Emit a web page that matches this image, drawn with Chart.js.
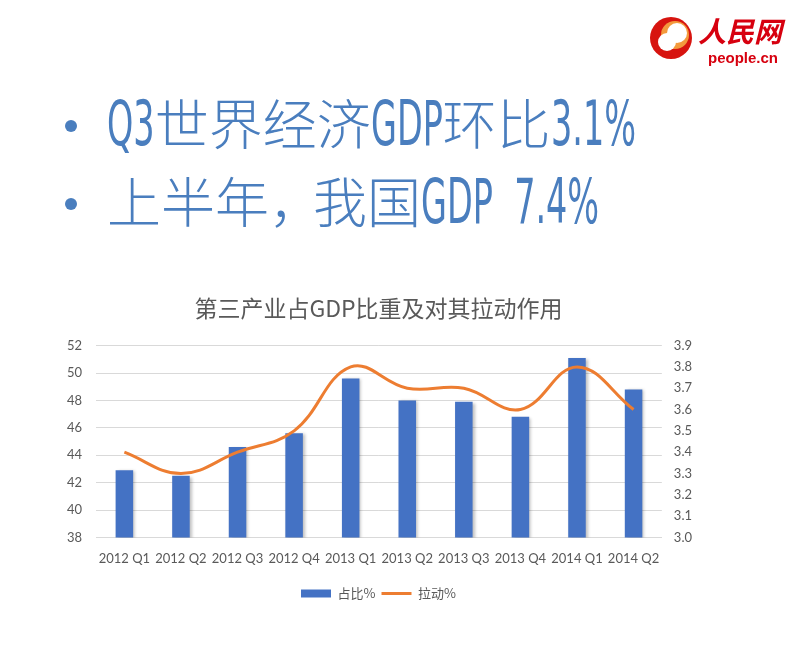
<!DOCTYPE html>
<html>
<head>
<meta charset="utf-8">
<script src="https://cdn.jsdelivr.net/npm/chart.js@4.4.1/dist/chart.umd.min.js"></script>
<style>
  html, body { margin: 0; padding: 0; background: #ffffff; }
  #wrap { position: relative; width: 800px; height: 666px; overflow: hidden; background: #fff; }
  #chart { position: absolute; left: 0; top: 0; }
  .head { position: absolute; left: 60px; font-family: "Noto Sans CJK SC", sans-serif; font-size: 54px; color: #4A7EBE; line-height: 60px; white-space: nowrap; font-weight: 300; }
  .head .dot { display: inline-block; width: 12px; height: 12px; border-radius: 50%; background: #4A7EBE; vertical-align: middle; margin: 0 30px 0 5px; position: relative; top: -4px; }
  .lat { display: inline-block; font-family: "Liberation Sans Narrow", "DejaVu Sans Condensed", "Liberation Sans", sans-serif; font-size: 62px; transform-origin: left center; vertical-align: baseline; }
  #logo { position: absolute; left: 640px; top: 2px; }
</style>
</head>
<body>
<div id="wrap">
  <canvas id="chart" width="800" height="666"></canvas>
  <div class="head" id="h1" style="top:92px;"><span class="dot"></span><span class="lat" data-sx="0.6">Q3</span>世界经济<span class="lat" data-sx="0.6">GDP</span>环比<span class="lat" data-sx="0.6">3.1%</span></div>
  <div class="head" id="h2" style="top:170px;"><span class="dot"></span>上半年，<span style="margin-left:-10px">我国</span><span class="lat" data-sx="0.6">GDP&nbsp;&nbsp;7.4%</span></div>
  <svg id="logo" width="160" height="72" viewBox="0 0 160 72">
    <circle cx="31" cy="36" r="21" fill="#D7140F"/>
    <circle cx="35" cy="33" r="14" fill="#F39A3D"/>
    <circle cx="37" cy="31" r="10" fill="#ffffff"/>
    <circle cx="27" cy="40" r="9" fill="#ffffff"/>
    <text x="58" y="40" font-family="Noto Sans CJK SC" font-weight="700" font-size="28" fill="#D7000F" font-style="italic">人民网</text>
    <text x="68" y="61" font-family="Liberation Sans, Arial" font-weight="700" font-size="15" fill="#D7000F">people.cn</text>
  </svg>
</div>
<script>
// ---- data ----
const categories = ["2012 Q1","2012 Q2","2012 Q3","2012 Q4","2013 Q1","2013 Q2","2013 Q3","2013 Q4","2014 Q1","2014 Q2"];
const shareValues = [42.9, 42.5, 44.6, 45.6, 49.6, 48.0, 47.9, 46.8, 51.1, 48.8];
const pullValues = [3.4, 3.3, 3.4, 3.5, 3.8, 3.7, 3.7, 3.6, 3.8, 3.6];
const seriesNames = ["占比%", "拉动%"];
const chartTitle = "第三产业占GDP比重及对其拉动作用";

// condense latin spans in the headlines
document.querySelectorAll('.lat').forEach(function (el) {
  const sx = parseFloat(el.getAttribute('data-sx'));
  const w = el.getBoundingClientRect().width;
  el.style.transform = 'scaleX(' + sx + ')';
  el.style.marginRight = (-(1 - sx) * w) + 'px';
});

const barShadow = {
  id: 'barShadow',
  beforeDatasetDraw(chart, args) {
    if (args.index === 1) {
      const ctx = chart.ctx;
      ctx.save();
      ctx.shadowColor = 'rgba(0,0,0,0.25)';
      ctx.shadowBlur = 3;
      ctx.shadowOffsetX = 2;
      ctx.shadowOffsetY = 1;
    }
  },
  afterDatasetDraw(chart, args) {
    if (args.index === 1) chart.ctx.restore();
  }
};

const tickFont = { family: "Lato, 'Open Sans', sans-serif", size: 13 };
const tickColor = '#595959';

new Chart(document.getElementById('chart'), {
  data: {
    labels: categories,
    datasets: [
      {
        type: 'line',
        label: seriesNames[1],
        data: pullValues,
        yAxisID: 'y1',
        borderColor: '#ED7D31',
        backgroundColor: '#ED7D31',
        borderWidth: 3,
        pointRadius: 0,
        pointHoverRadius: 0,
        tension: 0.4,
        pointStyle: 'line',
        order: 0
      },
      {
        type: 'bar',
        label: seriesNames[0],
        data: shareValues,
        yAxisID: 'y',
        backgroundColor: '#4472C4',
        borderWidth: 0,
        barPercentage: 0.31,
        categoryPercentage: 1.0,
        pointStyle: 'rect',
        order: 1
      }
    ]
  },
  options: {
    responsive: false,
    animation: false,
    devicePixelRatio: 1,
    layout: { padding: { top: 286, left: 53, right: 96, bottom: 56 } },
    plugins: {
      title: {
        display: true,
        text: chartTitle,
        color: '#595959',
        font: { family: "'Noto Sans CJK SC', sans-serif", size: 23, weight: 'normal' },
        padding: { top: 8, bottom: 24 }
      },
      legend: {
        position: 'bottom',
        reverse: true,
        labels: {
          usePointStyle: true,
          pointStyleWidth: 30,
          boxHeight: 8,
          color: '#595959',
          font: { family: "'Noto Sans CJK SC', sans-serif", size: 13 },
          padding: 6
        }
      },
      tooltip: { enabled: false }
    },
    scales: {
      x: {
        grid: { display: false, drawTicks: false },
        border: { display: true, color: '#d9d9d9' },
        ticks: { color: tickColor, font: tickFont, maxRotation: 0, autoSkip: false, padding: 14 }
      },
      y: {
        position: 'left',
        min: 38, max: 52,
        grid: { color: '#d9d9d9', drawTicks: false },
        border: { display: false },
        ticks: { stepSize: 2, color: tickColor, font: tickFont, padding: 14 }
      },
      y1: {
        position: 'right',
        min: 3.0, max: 3.9,
        grid: { display: false, drawTicks: false },
        border: { display: false },
        ticks: { stepSize: 0.1, color: tickColor, font: tickFont, padding: 12, callback: function (v) { return Number(v).toFixed(1); } }
      }
    }
  },
  plugins: [barShadow]
});
</script>
</body>
</html>
